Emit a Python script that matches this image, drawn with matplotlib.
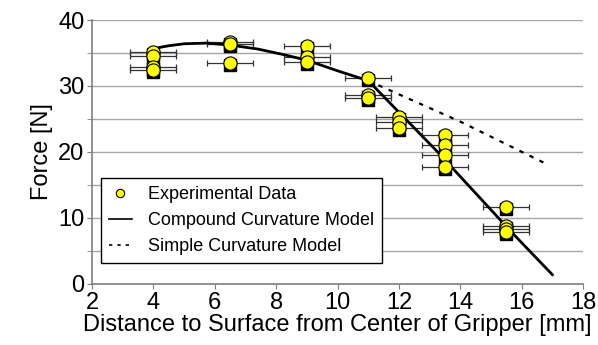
import numpy as np
import matplotlib
matplotlib.use("Agg")
import matplotlib.pyplot as plt
import matplotlib.transforms as mtransforms
from matplotlib.lines import Line2D

plt.rcParams["font.family"] = ["Liberation Sans", "DejaVu Sans"]

# ── Data ───────────────────────────────────────────────────────────────────
exp_x = [4, 4, 4, 4,
         6.5, 6.5, 6.5,
         9, 9, 9,
         11, 11, 11,
         12, 12, 12,
         13.5, 13.5, 13.5, 13.5,
         15.5, 15.5, 15.5, 15.5]
exp_y = [35.2, 34.6, 32.9, 32.4,
         36.6, 36.4, 33.5,
         36.0, 34.4, 33.6,
         31.2, 28.7, 28.2,
         25.3, 24.6, 23.6,
         22.6, 21.1, 19.5, 17.7,
         11.7, 8.8, 8.3, 7.9]
exp_xerr = 0.75

compound_x = [4.15, 4.5, 5.0, 5.75, 6.5, 7.4, 8.2, 9.0, 10.0, 11.0, 13.2, 15.7, 17.0]
compound_y = [35.8, 36.1, 36.4, 36.5, 36.2, 35.6, 34.8, 33.9, 32.3, 30.8, 20.3, 7.7, 1.4]

simple_x = [11.0, 14.0, 16.8]
simple_y = [30.8, 24.6, 18.2]

x_ticks = [2, 4, 6, 8, 10, 12, 14, 16, 18]
y_ticks = [0, 10, 20, 30, 40]

# ── Figure ─────────────────────────────────────────────────────────────────
fig = plt.figure(figsize=(5.98, 3.45), dpi=100)
ax = fig.add_axes([0.154, 0.177, 0.821, 0.765])

ax.set_xlim(2, 18)
ax.set_ylim(0, 40)
ax.set_yticks(np.arange(0, 41, 5), minor=True)
ax.set_yticks(y_ticks)
ax.set_xticks(x_ticks)
ax.grid(axis="y", which="both", color="#a6a6a6", lw=1.0, zorder=0)
for s in ["top", "right"]:
    ax.spines[s].set_visible(False)
for s in ["left", "bottom"]:
    ax.spines[s].set_color("#7f7f7f")
    ax.spines[s].set_linewidth(1.2)
ax.tick_params(which="both", direction="out", length=3.5, color="#7f7f7f",
               labelsize=17, pad=2)

# error bars
ax.errorbar(exp_x, exp_y, xerr=exp_xerr, fmt="none", ecolor="#333333",
            elinewidth=0.9, capsize=2.5, capthick=0.9, zorder=2)

# black square shadow behind markers
shadow = mtransforms.offset_copy(ax.transData, fig=fig, x=0, y=-2, units="dots")
ax.plot(exp_x, exp_y, ls="none", marker="s", ms=8.5, color="black",
        transform=shadow, zorder=3)

# model curves
ax.plot(compound_x, compound_y, color="black", lw=2.0, zorder=4)
ax.plot(simple_x, simple_y, color="black", lw=1.6, ls=(0, (2, 3)), zorder=4)

ax.plot(exp_x, exp_y, ls="none", marker="o", ms=9.5, mfc="#ffff00",
        mec="black", mew=0.8, zorder=5)

ax.set_xlabel("Distance to Surface from Center of Gripper [mm]", fontsize=17,
              labelpad=0)
ax.set_ylabel("Force [N]", fontsize=17, labelpad=4)

handles = [
    Line2D([], [], ls="none", marker="o", ms=6, mfc="#ffff00", mec="black", mew=0.8),
    Line2D([], [], color="black", lw=1.2),
    Line2D([], [], color="black", lw=1.2, ls=(0, (2, 3))),
]
labels = ["Experimental Data", "Compound Curvature Model", "Simple Curvature Model"]
leg = fig.legend(handles, labels, loc="upper left",
                 bbox_to_anchor=(0.169, 0.484), fontsize=13, frameon=True,
                 fancybox=False, edgecolor="black", framealpha=1,
                 handlelength=1.25, handletextpad=0.9, borderpad=0.45,
                 labelspacing=0.5, borderaxespad=0)
leg.get_frame().set_linewidth(1.0)

fig.savefig("out.png", dpi=100)
